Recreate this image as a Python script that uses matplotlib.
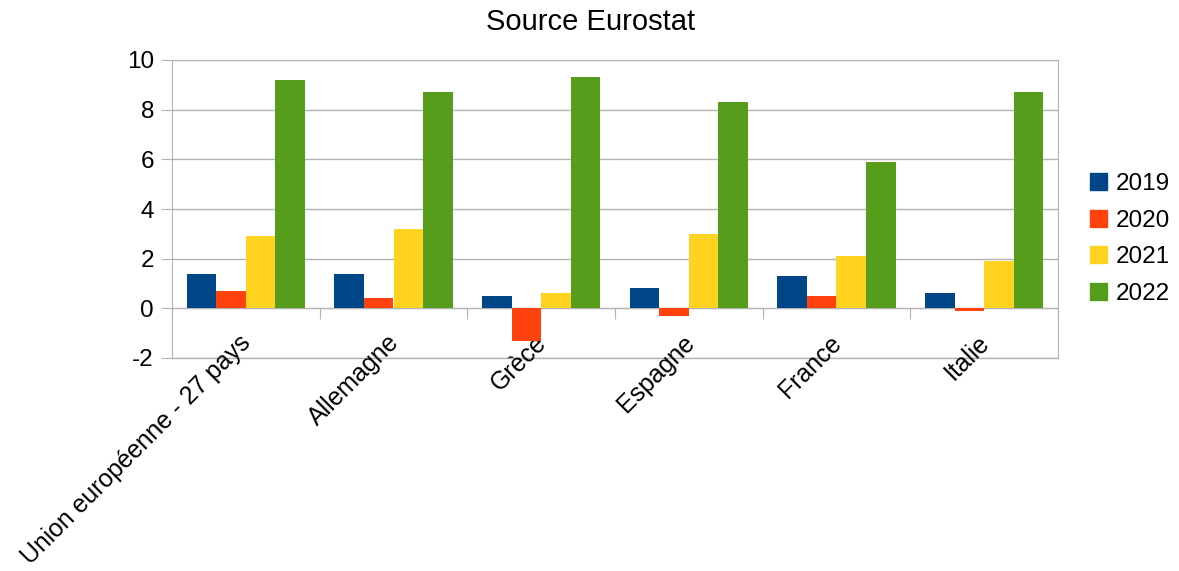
import numpy as np
import matplotlib
matplotlib.use("Agg")
import matplotlib.pyplot as plt
import matplotlib.transforms as mtransforms
from matplotlib.patches import Patch

plt.rcParams['font.family'] = ['Liberation Sans', 'DejaVu Sans']
plt.rcParams['axes.unicode_minus'] = False

# data (Source Eurostat)
countries = ["Union européenne - 27 pays", "Allemagne", "Grèce", "Espagne", "France", "Italie"]
years = ["2019", "2020", "2021", "2022"]
v2019 = [1.4, 1.4, 0.5, 0.8, 1.3, 0.6]
v2020 = [0.7, 0.4, -1.3, -0.3, 0.5, -0.1]
v2021 = [2.9, 3.2, 0.6, 3.0, 2.1, 1.9]
v2022 = [9.2, 8.7, 9.3, 8.3, 5.9, 8.7]
series = [v2019, v2020, v2021, v2022]
colors = ["#004586", "#ff420e", "#ffd320", "#579d1c"]

fig = plt.figure(figsize=(11.79, 5.71), dpi=100)
ax = fig.add_axes([172 / 1179, 1 - 358 / 571, (1058 - 172) / 1179, (358 - 60) / 571])

x = np.arange(len(countries))
w = 0.2
for i, (vals, c) in enumerate(zip(series, colors)):
    ax.bar(x + (i - 1.5) * w, vals, width=w, color=c, zorder=3)

ax.set_xlim(-0.5, len(countries) - 0.5)
ax.set_ylim(-2, 10)
ax.set_yticks(np.arange(-2, 11, 2))
ax.grid(axis='y', color='#b3b3b3', linewidth=1, zorder=0)
ax.tick_params(axis='y', labelsize=17.5, length=8, color='#b3b3b3', pad=5)

for s in ax.spines.values():
    s.set_color('#b3b3b3')
# x axis line sits at zero, frame line at -2
ax.spines['bottom'].set_position(('data', 0))
ax.axhline(-2, color='#b3b3b3', linewidth=1, zorder=1, clip_on=False)

ax.set_xticks(np.arange(-0.5, len(countries), 1.0))
ax.set_xticklabels([])
ax.tick_params(axis='x', which='major', direction='out', length=8, color='#b3b3b3')
ax.set_xticks(x, minor=True)
ax.set_xticklabels(countries, minor=True, rotation=45, ha='right', va='top', fontsize=17.9)
ax.tick_params(axis='x', which='minor', length=0, pad=16)
shift = mtransforms.ScaledTranslation(10 / 100, 0, fig.dpi_scale_trans)
for lab in ax.get_xticklabels(minor=True):
    lab.set_transform(lab.get_transform() + shift)

fig.text(0.501, 1 - 22 / 571, "Source Eurostat", ha='center', va='center', fontsize=21)

handles = [Patch(facecolor=c, edgecolor=c) for c in colors]
fig.legend(handles, years, loc='center left', bbox_to_anchor=(1068 / 1179, 1 - 239 / 571),
           frameon=False, fontsize=17.5, handlelength=0.7, handleheight=0.7,
           handletextpad=0.35, labelspacing=0.59)

fig.savefig("out.png", dpi=100)
